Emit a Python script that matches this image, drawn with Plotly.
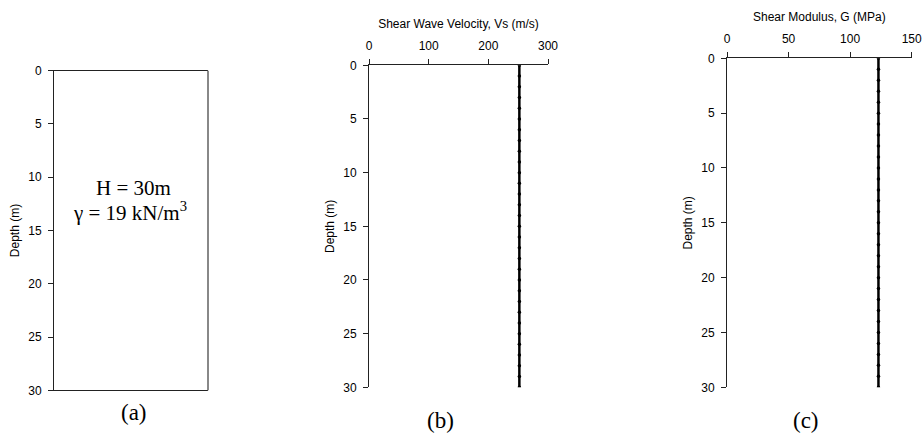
import plotly.graph_objects as go

depth = [0, 1, 2, 3, 4, 5, 6, 7, 8, 9, 10, 11, 12, 13, 14, 15, 16, 17, 18, 19, 20,
         21, 22, 23, 24, 25, 26, 27, 28, 29, 30]
vs = [252, 252, 252, 252, 252, 252, 252, 252, 252, 252, 252, 252, 252, 252, 252,
      252, 252, 252, 252, 252, 252, 252, 252, 252, 252, 252, 252, 252, 252, 252, 252]
g_mod = [123, 123, 123, 123, 123, 123, 123, 123, 123, 123, 123, 123, 123, 123, 123,
         123, 123, 123, 123, 123, 123, 123, 123, 123, 123, 123, 123, 123, 123, 123, 123]
depth_ticks = [0, 5, 10, 15, 20, 25, 30]
vs_ticks = [0, 100, 200, 300]
g_ticks = [0, 50, 100, 150]

W, H = 924, 438
def px(x): return x / W
def py(y): return 1 - y / H

sans = dict(family="Liberation Sans, Arial, sans-serif", size=12, color="black")
serif = "Liberation Serif, Times New Roman, serif"

fig = go.Figure()
fig.add_trace(go.Scatter(x=[0.5], y=[15], xaxis="x", yaxis="y", mode="markers",
                         marker=dict(opacity=0), hoverinfo="skip", showlegend=False))
fig.add_trace(go.Scatter(x=vs, y=depth, xaxis="x2", yaxis="y2", mode="lines+markers",
                         line=dict(color="black", width=2.5),
                         marker=dict(color="black", size=3.5), showlegend=False))
fig.add_trace(go.Scatter(x=g_mod, y=depth, xaxis="x3", yaxis="y3", mode="lines+markers",
                         line=dict(color="black", width=2.5),
                         marker=dict(color="black", size=3.5), showlegend=False))

yax = dict(range=[30, 0], tickvals=depth_ticks, ticks="outside", ticklen=5, tickcolor="#222",
           showline=True, linecolor="#222", linewidth=1, showgrid=False, zeroline=False,
           automargin=False, tickfont=sans, ticklabelstandoff=4,
           title=dict(text="Depth (m)", font=sans, standoff=6))
xtop = dict(side="top", ticks="outside", ticklen=5, tickcolor="#222", showline=True,
            linecolor="#222", linewidth=1, showgrid=False, zeroline=False,
            automargin=False, tickfont=sans, ticklabelstandoff=5)

fig.update_layout(
    width=W, height=H, margin=dict(l=0, r=0, t=0, b=0),
    paper_bgcolor="white", plot_bgcolor="white",
    xaxis=dict(domain=[px(54), px(208)], range=[0, 1], showticklabels=False, ticks="",
               showline=True, mirror=True, linecolor="#222", linewidth=1,
               showgrid=False, zeroline=False, anchor="y", automargin=False),
    yaxis=dict(domain=[py(390.3), py(70.7)], anchor="x", **yax),
    xaxis2=dict(domain=[px(369), px(548)], range=[0, 300], tickvals=vs_ticks, anchor="y2",
                title=dict(text="Shear Wave Velocity, Vs (m/s)", font=sans, standoff=7), **xtop),
    yaxis2=dict(domain=[py(387.3), py(65.3)], anchor="x2", **yax),
    xaxis3=dict(domain=[px(727), px(911.7)], range=[0, 150], tickvals=g_ticks, anchor="y3",
                title=dict(text="Shear Modulus, G (MPa)", font=sans, standoff=7), **xtop),
    yaxis3=dict(domain=[py(387.3), py(58.3)], anchor="x3", **yax),
)

fig.add_shape(type="line", xref="x domain", yref="y domain", x0=1, x1=1, y0=0, y1=1,
              line=dict(color="#888", width=2))

fig.add_annotation(x=px(133), y=py(188), xref="paper", yref="paper", text="H = 30m",
                   xanchor="center", yanchor="middle",
                   showarrow=False, font=dict(family=serif, size=21, color="black"))
fig.add_annotation(x=px(130), y=py(211), xref="paper", yref="paper",
                   text="γ = 19 kN/m<sup>3</sup>", xanchor="center", yanchor="middle",
                   showarrow=False, font=dict(family=serif, size=21, color="black"))
for label, x, y in [("(a)", 134, 412), ("(b)", 440, 420), ("(c)", 806, 420)]:
    fig.add_annotation(x=px(x), y=py(y), xref="paper", yref="paper", text=label,
                       xanchor="center", yanchor="middle",
                       showarrow=False, font=dict(family=serif, size=23, color="black"))

fig.write_html(
    "out.html",
    config={"displayModeBar": False},
    post_script="document.documentElement.style.margin='0';document.body.style.margin='0';"
                "document.body.style.padding='0';document.body.style.overflow='hidden';"
                "document.documentElement.style.overflow='hidden';",
)
